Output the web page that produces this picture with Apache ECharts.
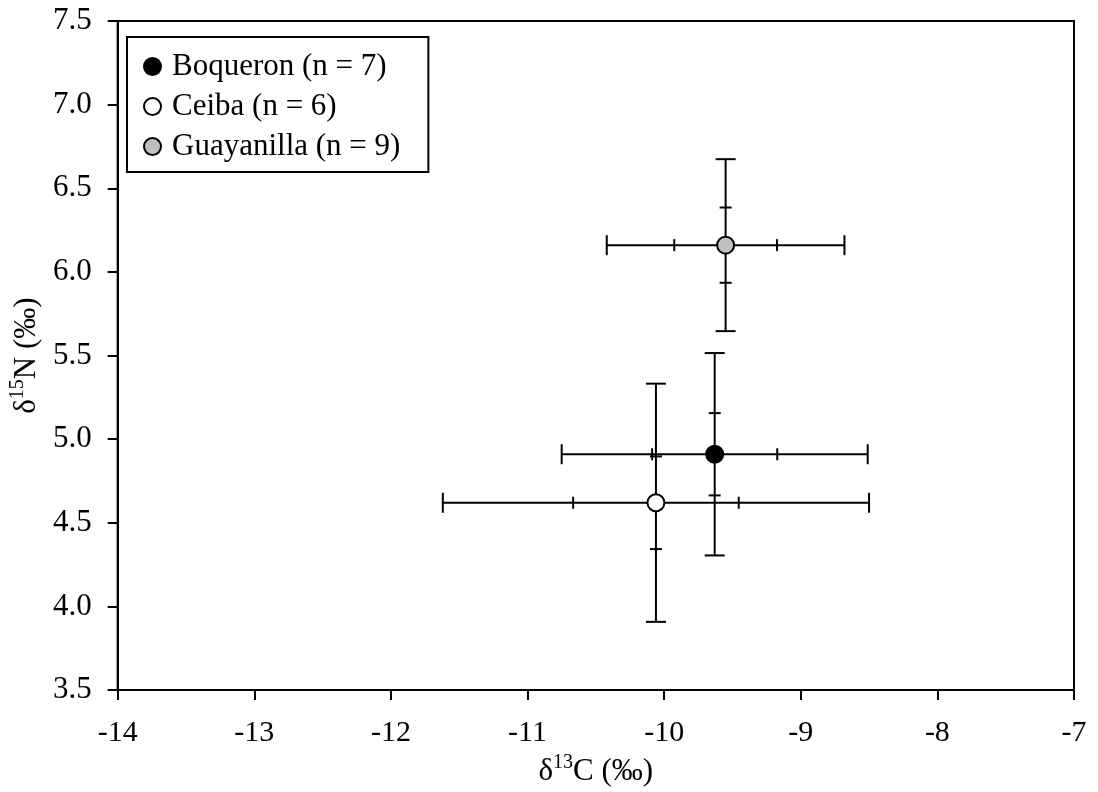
<!DOCTYPE html>
<html>
<head>
<meta charset="utf-8">
<style>
  html, body { margin: 0; padding: 0; background: #fff; }
  #chart { width: 1098px; height: 792px; }
</style>
<script src="https://cdn.jsdelivr.net/npm/echarts@6/dist/echarts.min.js"></script>
</head>
<body>
<div id="chart"></div>
<script>
// sites and their mean isotope values
const sites = ['Boqueron (n = 7)', 'Ceiba (n = 6)', 'Guayanilla (n = 9)'];
const fillColors = ['#000000', '#ffffff', '#c0c0c0'];
const meanC = [-9.63, -10.06, -9.55];
const meanN = [4.91, 4.62, 6.16];
// outer error bars (caps) and inner ticks, as half widths
const outerC = [1.12, 1.56, 0.87];
const outerN = [0.605, 0.712, 0.514];
const innerC = [0.458, 0.606, 0.376];
const innerN = [0.246, 0.277, 0.225];

const xTicks = [-14, -13, -12, -11, -10, -9, -8, -7];
const yTicks = [3.5, 4.0, 4.5, 5.0, 5.5, 6.0, 6.5, 7.0, 7.5];

const font = '"Liberation Serif", "Times New Roman", serif';
const chart = echarts.init(document.getElementById('chart'));

// error bar data: [x, y, outerX, outerY, innerX, innerY]
const barData = sites.map((s, i) => [meanC[i], meanN[i], outerC[i], outerN[i], innerC[i], innerN[i]]);

function renderBars(params, api) {
    const x = api.value(0), y = api.value(1);
    const ox = api.value(2), oy = api.value(3);
    const ix = api.value(4), iy = api.value(5);
    const c = api.coord([x, y]);
    const left = api.coord([x - ox, y]), right = api.coord([x + ox, y]);
    const top = api.coord([x, y + oy]), bottom = api.coord([x, y - oy]);
    const il = api.coord([x - ix, y]), ir = api.coord([x + ix, y]);
    const it = api.coord([x, y + iy]), ib = api.coord([x, y - iy]);
    const capH = 10, tickH = 6;
    const style = { stroke: '#000', lineWidth: 2 };
    const seg = (x1, y1, x2, y2) => ({ type: 'line', shape: { x1, y1, x2, y2 }, style });
    return {
        type: 'group',
        children: [
            seg(left[0], c[1], right[0], c[1]),
            seg(c[0], top[1], c[0], bottom[1]),
            seg(left[0], c[1] - capH, left[0], c[1] + capH),
            seg(right[0], c[1] - capH, right[0], c[1] + capH),
            seg(c[0] - capH, top[1], c[0] + capH, top[1]),
            seg(c[0] - capH, bottom[1], c[0] + capH, bottom[1]),
            seg(il[0], c[1] - tickH, il[0], c[1] + tickH),
            seg(ir[0], c[1] - tickH, ir[0], c[1] + tickH),
            seg(c[0] - tickH, it[1], c[0] + tickH, it[1]),
            seg(c[0] - tickH, ib[1], c[0] + tickH, ib[1])
        ]
    };
}

const series = [{
    type: 'custom',
    name: 'bars',
    renderItem: renderBars,
    data: barData,
    encode: { x: 0, y: 1 },
    z: 1,
    silent: true
}];
sites.forEach((s, i) => {
    series.push({
        type: 'scatter',
        name: s,
        data: [[meanC[i], meanN[i]]],
        symbol: 'circle',
        symbolSize: 17,
        itemStyle: { color: fillColors[i], borderColor: '#000', borderWidth: 2, opacity: 1 },
        z: 5
    });
});

const option = {
    animation: false,
    backgroundColor: '#fff',
    grid: {
        left: 117, top: 21, right: 24, bottom: 99,
        show: true, borderColor: '#000', borderWidth: 2
    },
    legend: {
        data: sites,
        orient: 'vertical',
        left: 127,
        top: 37,
        padding: [14, 28, 10, 16],
        itemGap: 9,
        itemWidth: 17,
        itemHeight: 17,
        borderColor: '#000',
        borderWidth: 2,
        backgroundColor: '#fff',
        icon: 'circle',
        textStyle: { fontFamily: font, fontSize: 31, color: '#000', padding: [0, 0, 0, 6] }
    },
    xAxis: {
        type: 'value',
        min: xTicks[0],
        max: xTicks[xTicks.length - 1],
        interval: 1,
        name: '{t|δ}{s|13}{t|C (‰)}',
        nameLocation: 'middle',
        nameGap: 56,
        nameTextStyle: {
            rich: {
                t: { fontFamily: font, fontSize: 31, color: '#000', lineHeight: 34, verticalAlign: 'bottom' },
                s: { fontFamily: font, fontSize: 20, color: '#000', lineHeight: 34, verticalAlign: 'top' }
            }
        },
        axisLine: { lineStyle: { color: '#000', width: 2 } },
        axisTick: { inside: false, length: 10, lineStyle: { color: '#000', width: 2 } },
        axisLabel: { fontFamily: font, fontSize: 30, color: '#000', margin: 28 },
        splitLine: { show: false }
    },
    yAxis: {
        type: 'value',
        min: yTicks[0],
        max: yTicks[yTicks.length - 1],
        interval: 0.5,
        name: '{t|δ}{s|15}{t|N (‰)}',
        nameLocation: 'middle',
        nameGap: 72,
        nameRotate: 90,
        nameTextStyle: {
            rich: {
                t: { fontFamily: font, fontSize: 31, color: '#000', lineHeight: 34, verticalAlign: 'bottom' },
                s: { fontFamily: font, fontSize: 20, color: '#000', lineHeight: 34, verticalAlign: 'top' }
            }
        },
        axisLine: { lineStyle: { color: '#000', width: 2 } },
        axisTick: { inside: false, length: 10, lineStyle: { color: '#000', width: 2 } },
        axisLabel: { fontFamily: font, fontSize: 31, color: '#000', margin: 26, formatter: v => v.toFixed(1) },
        splitLine: { show: false }
    },
    series: series
};

chart.setOption(option);
</script>
</body>
</html>
